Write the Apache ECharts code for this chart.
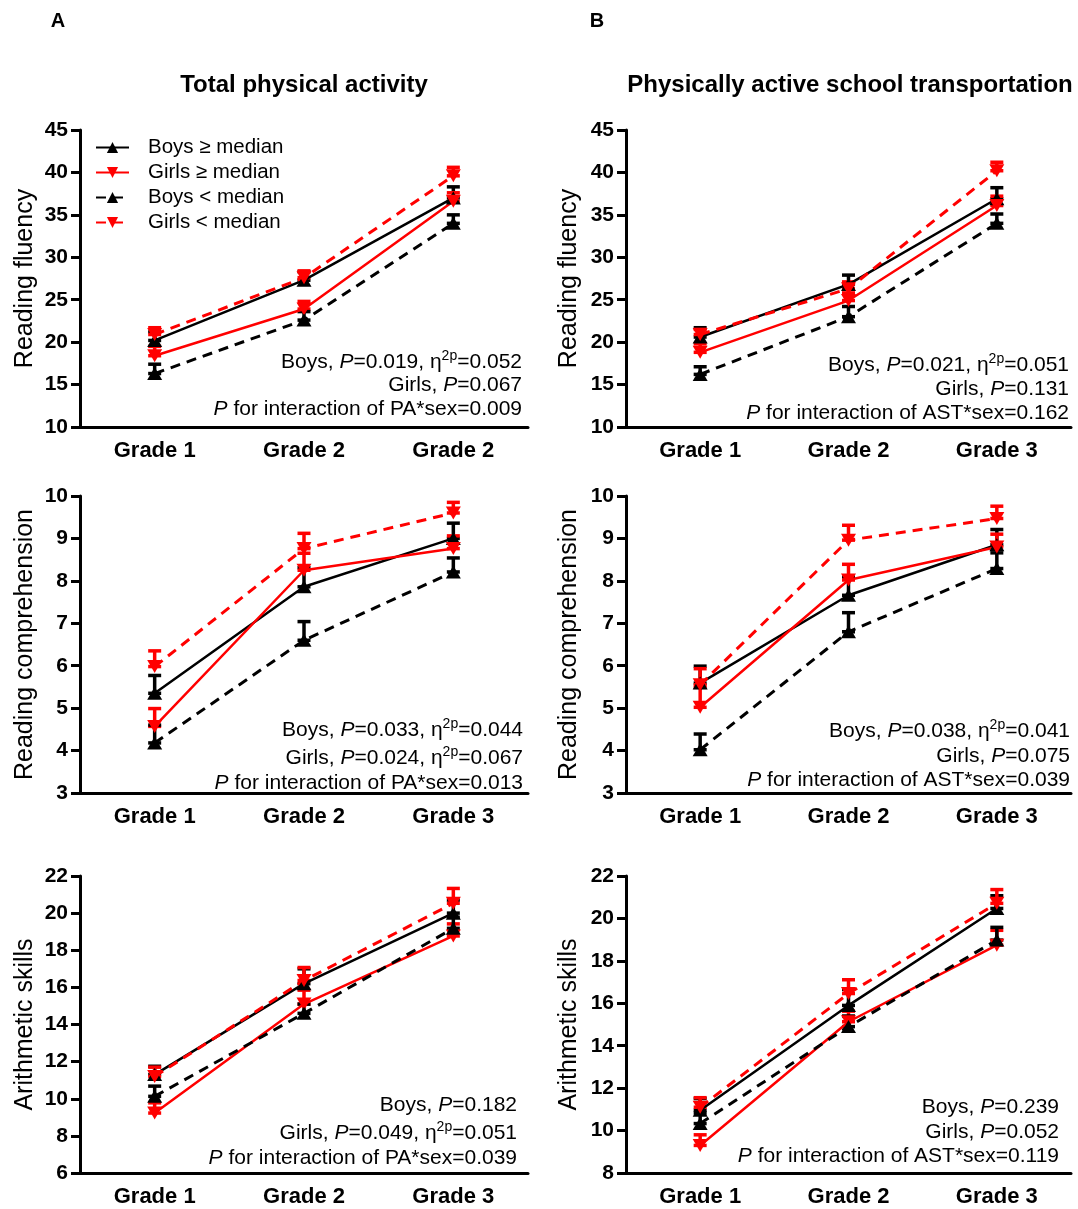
<!DOCTYPE html>
<html><head><meta charset="utf-8">
<script src="https://cdn.jsdelivr.net/npm/echarts@6/dist/echarts.min.js"></script>
<style>html,body{margin:0;padding:0;background:#fff}#c{width:1078px;height:1209px}</style>
</head><body><div id="c"></div><script>
const FONT = '"Liberation Sans", Arial, sans-serif';
const seriesNames = ['Boys ≥ median', 'Girls ≥ median', 'Boys < median', 'Girls < median'];
const gradesFirstPanel = ['Grade 1', 'Grade 2', 'Grade 2'];
const grades = ['Grade 1', 'Grade 2', 'Grade 3'];
const columnTitles = ['Total physical activity', 'Physically active school transportation'];
const panelLetters = ['A', 'B'];
const outcomeNames = ['Reading fluency', 'Reading comprehension', 'Arithmetic skills'];
// [min, max, interval]
const fluencyAxis = [10, 45, 5];
const comprehensionAxis = [3, 10, 1];
const arithmeticAxisPA = [6, 22, 2];
const arithmeticAxisAST = [8, 22, 2];

// means, order: Boys>=, Girls>=, Boys<, Girls<
const fluencyPA_mean = [[20.2, 27.3, 37.0], [18.4, 23.9, 36.6], [16.3, 22.6, 34.0], [20.9, 27.6, 39.6]];
const fluencyPA_err = [[1.0, 1.0, 1.3], [1.1, 0.9, 1.0], [1.1, 1.0, 1.0], [0.8, 0.8, 1.0]];
const fluencyAST_mean = [[20.6, 26.8, 36.9], [18.8, 24.9, 36.1], [16.2, 23.0, 34.0], [20.9, 26.3, 40.2]];
const fluencyAST_err = [[1.1, 1.1, 1.3], [1.0, 0.9, 1.1], [0.9, 1.2, 1.1], [0.6, 0.8, 1.0]];
const comprehensionPA_mean = [[5.35, 7.86, 9.0], [4.57, 8.25, 8.76], [4.18, 6.6, 8.21], [5.98, 8.76, 9.6]];
const comprehensionPA_err = [[0.42, 0.45, 0.36], [0.42, 0.4, 0.3], [0.42, 0.44, 0.33], [0.37, 0.36, 0.25]];
const comprehensionAST_mean = [[5.59, 7.66, 8.85], [5.02, 8.02, 8.8], [4.02, 6.8, 8.29], [5.55, 8.96, 9.47]];
const comprehensionAST_err = [[0.4, 0.43, 0.36], [0.47, 0.37, 0.3], [0.37, 0.45, 0.37], [0.38, 0.35, 0.29]];
const arithmeticPA_mean = [[11.3, 16.2, 20.0], [9.23, 15.1, 18.77], [10.13, 14.6, 19.18], [11.2, 16.37, 20.53]];
const arithmeticPA_err = [[0.45, 0.8, 0.7], [0.55, 0.75, 0.65], [0.55, 0.5, 0.6], [0.5, 0.7, 0.8]];
const arithmeticAST_mean = [[10.96, 15.9, 20.47], [9.3, 15.13, 18.74], [10.33, 14.9, 18.98], [11.1, 16.46, 20.71]];
const arithmeticAST_err = [[0.55, 0.75, 0.6], [0.5, 0.5, 0.7], [0.5, 0.5, 0.6], [0.45, 0.65, 0.65]];

const notesA1 = ['Boys, {i|P}=0.019, η{s|2p}=0.052', 'Girls, {i|P}=0.067', '{i|P} for interaction of PA*sex=0.009'];
const notesB1 = ['Boys, {i|P}=0.021, η{s|2p}=0.051', 'Girls, {i|P}=0.131', '{i|P} for interaction of AST*sex=0.162'];
const notesA2 = ['Boys, {i|P}=0.033, η{s|2p}=0.044', 'Girls, {i|P}=0.024, η{s|2p}=0.067', '{i|P} for interaction of PA*sex=0.013'];
const notesB2 = ['Boys, {i|P}=0.038, η{s|2p}=0.041', 'Girls, {i|P}=0.075', '{i|P} for interaction of AST*sex=0.039'];
const notesA3 = ['Boys, {i|P}=0.182', 'Girls, {i|P}=0.049, η{s|2p}=0.051', '{i|P} for interaction of PA*sex=0.039'];
const notesB3 = ['Boys, {i|P}=0.239', 'Girls, {i|P}=0.052', '{i|P} for interaction of AST*sex=0.119'];

// ---- layout / styling ----
const RED = '#f00', BLACK = '#000';
const styles = [
  { color: BLACK, type: 'solid', rot: 0, width: 2.5 },
  { color: RED, type: 'solid', rot: 180, width: 2.5 },
  { color: BLACK, type: [10, 7], rot: 0, width: 3 },
  { color: RED, type: [10, 7], rot: 180, width: 3 }
];
const colLeft = [80, 626], colWidth = [448, 445];
const rowTop = [130, 496, 876], rowHeight = 297;
const panels = [
  { r: 0, c: 0, cats: gradesFirstPanel, ax: fluencyAxis, mean: fluencyPA_mean, err: fluencyPA_err, notes: notesA1, right: 522, ny: [-65, -42, -18] },
  { r: 0, c: 1, cats: grades, ax: fluencyAxis, mean: fluencyAST_mean, err: fluencyAST_err, notes: notesB1, right: 1069, ny: [-62, -38, -14] },
  { r: 1, c: 0, cats: grades, ax: comprehensionAxis, mean: comprehensionPA_mean, err: comprehensionPA_err, notes: notesA2, right: 523, ny: [-63, -35, -10] },
  { r: 1, c: 1, cats: grades, ax: comprehensionAxis, mean: comprehensionAST_mean, err: comprehensionAST_err, notes: notesB2, right: 1070, ny: [-62, -37, -13] },
  { r: 2, c: 0, cats: grades, ax: arithmeticAxisPA, mean: arithmeticPA_mean, err: arithmeticPA_err, notes: notesA3, right: 517, ny: [-68, -40, -15] },
  { r: 2, c: 1, cats: grades, ax: arithmeticAxisAST, mean: arithmeticAST_mean, err: arithmeticAST_err, notes: notesB3, right: 1059, ny: [-66, -41, -17] }
];

const grid = [], xAxis = [], yAxis = [], series = [], graphic = [];
const axisLineStyle = { color: BLACK, width: 3 };
panels.forEach((p, i) => {
  grid.push({ left: colLeft[p.c], top: rowTop[p.r], width: colWidth[p.c], height: rowHeight, outerBoundsMode: 'none', containLabel: false });
  xAxis.push({
    type: 'category', gridIndex: i, data: p.cats, boundaryGap: true,
    axisLine: { lineStyle: axisLineStyle },
    axisTick: { alignWithLabel: true, length: 8, lineStyle: { color: BLACK, width: 3 } },
    axisLabel: { color: BLACK, fontFamily: FONT, fontWeight: 'bold', fontSize: 22, margin: 13 },
    splitLine: { show: false }
  });
  yAxis.push({
    type: 'value', gridIndex: i, min: p.ax[0], max: p.ax[1], interval: p.ax[2],
    name: outcomeNames[p.r], nameLocation: 'middle', nameGap: [42, 44][p.c],
    nameTextStyle: { color: BLACK, fontFamily: FONT, fontSize: 25 },
    axisLine: { show: true, lineStyle: axisLineStyle },
    axisTick: { show: true, length: 9, lineStyle: { color: BLACK, width: 3 } },
    axisLabel: { color: BLACK, fontFamily: FONT, fontWeight: 'bold', fontSize: 21, margin: 12 },
    splitLine: { show: false }
  });
  p.mean.forEach((m, s) => {
    const st = styles[s];
    series.push({
      name: seriesNames[s], type: 'line', xAxisIndex: i, yAxisIndex: i, data: m,
      symbol: 'triangle', symbolSize: [15, 13], symbolRotate: st.rot, z: 4,
      lineStyle: { color: st.color, width: st.width, type: st.type },
      itemStyle: { color: st.color }, animation: false
    });
  });
  p.mean.forEach((m, s) => {
    const st = styles[s];
    series.push({
      type: 'custom', xAxisIndex: i, yAxisIndex: i, z: 3, animation: false, silent: true,
      data: m.map((v, k) => [k, v, p.err[s][k]]),
      renderItem: (params, api) => {
        const x = api.value(0), v = api.value(1), e = api.value(2);
        const a = api.coord([x, v]), b = api.coord([x, v + e]);
        const hw = 6.5, ls = { stroke: st.color, lineWidth: 3.5 };
        return { type: 'group', children: [
          { type: 'line', shape: { x1: a[0], y1: a[1], x2: b[0], y2: b[1] }, style: ls },
          { type: 'line', shape: { x1: b[0] - hw, y1: b[1], x2: b[0] + hw, y2: b[1] }, style: ls },
          { type: 'line', shape: { x1: a[0] - hw, y1: a[1], x2: a[0] + hw, y2: a[1] }, style: ls }
        ] };
      }
    });
  });
  const bottom = rowTop[p.r] + rowHeight;
  p.notes.forEach((t, k) => {
    graphic.push({
      type: 'text', x: p.right, y: bottom + p.ny[k],
      style: {
        text: t, align: 'right', verticalAlign: 'middle', fill: BLACK, fontFamily: FONT, fontSize: 21,
        rich: {
          i: { fontStyle: 'italic', fontSize: 21, fontFamily: FONT, fill: BLACK },
          s: { fontSize: 14, fontFamily: FONT, fill: BLACK, verticalAlign: 'top', padding: [0, 0, 12, 0] }
        }
      }
    });
  });
});

const titleCenters = [304, 850];
[0, 1].forEach(c => {
  graphic.push({ type: 'text', x: titleCenters[c], y: 85, style: { text: columnTitles[c], align: 'center', verticalAlign: 'middle', fill: BLACK, fontFamily: FONT, fontSize: 24, fontWeight: 'bold' } });
  graphic.push({ type: 'text', x: [58, 597][c], y: 21, style: { text: panelLetters[c], align: 'center', verticalAlign: 'middle', fill: BLACK, fontFamily: FONT, fontSize: 20, fontWeight: 'bold' } });
});

const chart = echarts.init(document.getElementById('c'), null, { renderer: 'canvas' });
chart.setOption({
  backgroundColor: '#fff', animation: false,
  legend: {
    data: seriesNames, orient: 'vertical', left: 90, top: 132, itemGap: 4,
    itemWidth: 33, itemHeight: 14, selectedMode: false,
    textStyle: { color: BLACK, fontFamily: FONT, fontSize: 20.5, lineHeight: 20, padding: [0, 0, 0, 14] }
  },
  grid, xAxis, yAxis, series, graphic
});
</script></body></html>
